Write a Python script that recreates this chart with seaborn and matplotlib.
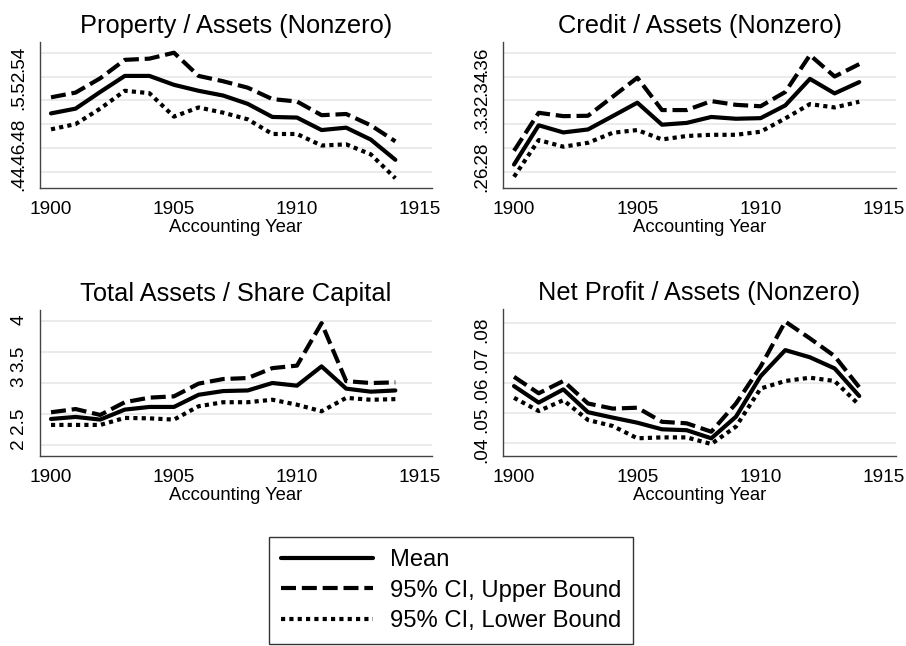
import matplotlib
matplotlib.use('Agg')
import matplotlib.pyplot as plt
import pandas as pd
import seaborn as sns
from matplotlib.ticker import FuncFormatter

# Data
years = list(range(1900, 1915))
series_names = ['Mean', '95% CI, Upper Bound', '95% CI, Lower Bound']

property_mean = [.489, .493, .507, .5205, .5205, .513, .508, .504, .497, .486, .4855, .475, .477, .467, .450]
property_upper = [.5025, .5065, .5185, .534, .535, .540, .5205, .516, .5106, .501, .499, .4875, .4885, .479, .4655]
property_lower = [.4756, .480, .493, .508, .506, .4863, .494, .4896, .484, .4717, .4717, .462, .463, .4546, .4345]

credit_mean = [.266, .299, .293, .2955, .3067, .318, .2995, .301, .306, .3045, .305, .3157, .338, .3258, .3353]
credit_upper = [.2776, .3095, .3067, .307, .323, .339, .3118, .3118, .3193, .3162, .315, .327, .358, .340, .3504]
credit_lower = [.2557, .2866, .281, .2843, .2927, .295, .2871, .290, .291, .291, .2936, .3048, .3168, .314, .3188]

leverage_mean = [2.42, 2.453, 2.41, 2.571, 2.614, 2.614, 2.81, 2.87, 2.88, 3.0, 2.957, 3.268, 2.909, 2.86, 2.88]
leverage_upper = [2.528, 2.58, 2.485, 2.69, 2.764, 2.785, 2.99, 3.064, 3.08, 3.24, 3.28, 3.965, 3.03, 3.0, 3.01]
leverage_lower = [2.324, 2.324, 2.324, 2.437, 2.43, 2.41, 2.625, 2.69, 2.69, 2.73, 2.65, 2.544, 2.76, 2.73, 2.74]

profit_mean = [.0591, .0536, .058, .0504, .0486, .0469, .0447, .0444, .0417, .0489, .0624, .0711, .0687, .065, .0558]
profit_upper = [.0622, .0567, .0608, .0533, .0516, .0519, .0472, .0467, .0439, .0533, .0656, .0806, .075, .0691, .0587]
profit_lower = [.0552, .0508, .0544, .0478, .0458, .0417, .042, .042, .0398, .0456, .0583, .0608, .0619, .0608, .0528]

xticks = [1900, 1905, 1910, 1915]

panels = [
    ('Property / Assets (Nonzero)', property_mean, property_upper, property_lower,
     [.44, .46, .48, .5, .52, .54], (.4263, .549), (40, 42, 432, 188)),
    ('Credit / Assets (Nonzero)', credit_mean, credit_upper, credit_lower,
     [.26, .28, .3, .32, .34, .36], (.2463, .369), (503, 42, 896, 188)),
    ('Total Assets / Share Capital', leverage_mean, leverage_upper, leverage_lower,
     [2, 2.5, 3, 3.5, 4], (1.823, 4.177), (40, 310, 432, 456)),
    ('Net Profit / Assets (Nonzero)', profit_mean, profit_upper, profit_lower,
     [.04, .05, .06, .07, .08], (.0358, .0848), (503, 309, 896, 456)),
]

sns.set_style('white')
plt.rcParams['font.family'] = ['Liberation Sans', 'DejaVu Sans']
plt.rcParams['text.color'] = 'black'
plt.rcParams['axes.labelcolor'] = 'black'

W, H = 906, 646
fig = plt.figure(figsize=(W / 100, H / 100), dpi=100)

dash_map = {series_names[0]: '', series_names[1]: (3.6, 1.4), series_names[2]: (1, 1)}


def stata_fmt(v, pos):
    s = '%g' % v
    if s.startswith('0.'):
        s = s[1:]
    return s


handles, labels = None, None
for i, (title, m, u, l, yt, ylim, (x0, y0, x1, y1)) in enumerate(panels):
    ax = fig.add_axes([x0 / W, 1 - y1 / H, (x1 - x0) / W, (y1 - y0) / H])
    df = pd.DataFrame({
        'year': years * 3,
        'value': m + u + l,
        'series': [series_names[0]] * len(years) + [series_names[1]] * len(years)
                  + [series_names[2]] * len(years),
    })
    sns.lineplot(data=df, x='year', y='value', style='series', style_order=series_names,
                 dashes=dash_map, color='black', linewidth=3, ax=ax, legend=(i == 0))
    if i == 0:
        leg = ax.get_legend()
        handles = leg.legend_handles
        labels = [t.get_text() for t in leg.get_texts()]
        leg.remove()
    ax.set_xlim(1899.553, 1915.49)
    ax.set_ylim(*ylim)
    ax.set_xticks(xticks)
    ax.set_yticks(yt)
    ax.yaxis.set_major_formatter(FuncFormatter(stata_fmt))
    ax.grid(axis='y', color='#e8e8e8', linewidth=1.2)
    ax.grid(axis='x', visible=False)
    ax.set_axisbelow(True)
    sns.despine(ax=ax)
    for side in ['left', 'bottom']:
        ax.spines[side].set_color('#444444')
        ax.spines[side].set_linewidth(1)
    ax.tick_params(direction='out', length=6, width=1, color='#444444', labelsize=13.7,
                   labelcolor='black')
    ax.tick_params(axis='x', pad=3)
    ax.tick_params(axis='y', labelrotation=90, pad=3)
    ax.set_title(title, fontsize=18.3, pad=6.5, color='black')
    ax.set_xlabel('Accounting Year', fontsize=13.3, labelpad=1)
    ax.set_ylabel('')

for h in handles:
    h.set_linewidth(3)
    h.set_color('black')

# legend sits at the bottom, its lower edge running off the figure as in the reference
fig.legend(handles, labels, loc='upper center', bbox_to_anchor=(451 / W, 1 - 537 / H),
           frameon=True, fancybox=False, edgecolor='#333333', framealpha=1,
           fontsize=17.1, handlelength=3.87, handletextpad=0.72, labelspacing=0.37,
           borderpad=0.5, borderaxespad=0)

fig.savefig('out.png', dpi=100)
